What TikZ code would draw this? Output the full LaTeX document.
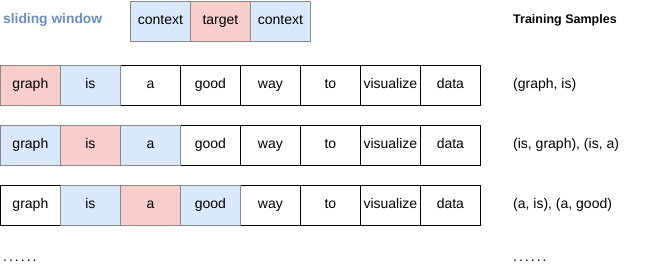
\documentclass[tikz,border=0pt]{standalone}
\usepackage{fontspec}
\setmainfont{Liberation Sans}
\definecolor{bfill}{HTML}{DAE8FC}
\definecolor{rfill}{HTML}{F8CECC}
\definecolor{cdraw}{HTML}{8A8A8A}
\definecolor{swblue}{HTML}{6C8EBF}
\newcommand{\dotrow}{.\hspace{2pt}.\hspace{2pt}.\hspace{2pt}.\hspace{2pt}.\hspace{2pt}.}
\begin{document}
\begin{tikzpicture}[x=1pt,y=-1pt,
  txt/.style={font=\fontsize{14}{16}\selectfont, text height=0.905em, text depth=0.212em},
  cell/.style={txt, draw=black, line width=0.8pt, minimum width=60pt, minimum height=40pt,
    inner sep=0pt, anchor=north west},
  ctx/.style={cell, fill=bfill, draw=cdraw},
  tgt/.style={cell, fill=rfill, draw=cdraw},
  plain/.style={cell},
  lbl/.style={txt, anchor=west, inner sep=0pt},
  head/.style={anchor=west, inner sep=0pt, text height=0.905em, text depth=0.212em}]
\useasboundingbox (0,0) rectangle (671,276);
% legend
\node[head, text=swblue, font=\fontsize{13.8}{16}\selectfont\bfseries] (sw) at (3,20) {sliding window};
\node[ctx] (l1) at (130,1) {context};
\node[tgt] (l2) at (190,1) {target};
\node[ctx] (l3) at (250,1) {context};
\node[head, font=\fontsize{12.5}{15}\selectfont\bfseries] (ts) at (513,20) {Training Samples};
% rows
\foreach \w [count=\i from 0] in {graph,is,a,good,way,to,visualize,data}{
  \pgfmathsetmacro{\xx}{60*\i}
  \ifnum\i=0 \def\sA{tgt}\def\sB{ctx}\def\sC{plain}\fi
  \ifnum\i=1 \def\sA{ctx}\def\sB{tgt}\def\sC{ctx}\fi
  \ifnum\i=2 \def\sA{plain}\def\sB{ctx}\def\sC{tgt}\fi
  \ifnum\i=3 \def\sA{plain}\def\sB{plain}\def\sC{ctx}\fi
  \ifnum\i>3 \def\sA{plain}\def\sB{plain}\def\sC{plain}\fi
  \node[\sA] (a\i) at (\xx,65) {\w};
  \node[\sB] (b\i) at (\xx,125) {\w};
  \node[\sC] (c\i) at (\xx,185) {\w};
}
% redraw colored cells on top so their borders show
\node[tgt] at (0,65) {graph};
\node[ctx] at (60,65) {is};
\node[ctx] at (0,125) {graph};
\node[tgt] at (60,125) {is};
\node[ctx] at (120,125) {a};
\node[ctx] at (60,185) {is};
\node[tgt] at (120,185) {a};
\node[ctx] at (180,185) {good};
% samples
\node[lbl] (s1) at (513,85) {(graph, is)};
\node[lbl] (s2) at (513,145) {(is, graph), (is, a)};
\node[lbl] (s3) at (513,205) {(a, is), (a, good)};
\node[lbl] (d1) at (3,258) {\dotrow};
\node[lbl] (d2) at (513,258) {\dotrow};
\end{tikzpicture}
\end{document}
